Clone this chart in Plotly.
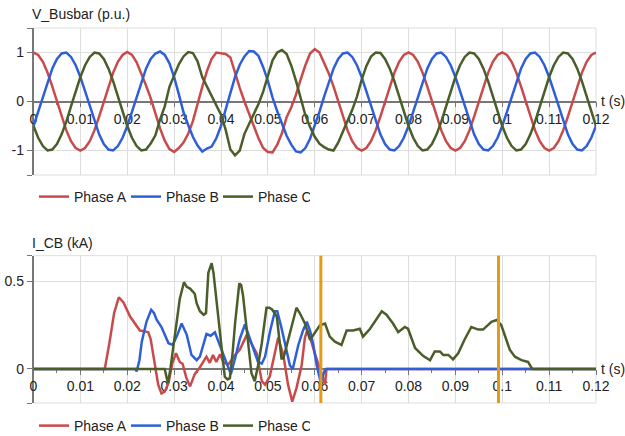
import plotly.graph_objects as go

# ---------------- data ----------------
t_top = [0.000, 0.001, 0.002, 0.003, 0.004, 0.005, 0.006, 0.007, 0.008, 0.009,
         0.010, 0.011, 0.012, 0.013, 0.014, 0.015, 0.016, 0.017, 0.018, 0.019,
         0.020, 0.021, 0.022, 0.023, 0.024, 0.025, 0.026, 0.027, 0.028, 0.029,
         0.030, 0.031, 0.032, 0.033, 0.034, 0.035, 0.036, 0.037, 0.038, 0.039,
         0.040, 0.041, 0.042, 0.043, 0.044, 0.045, 0.046, 0.047, 0.048, 0.049,
         0.050, 0.051, 0.052, 0.053, 0.054, 0.055, 0.056, 0.057, 0.058, 0.059,
         0.060, 0.061, 0.062, 0.063, 0.064, 0.065, 0.066, 0.067, 0.068, 0.069,
         0.070, 0.071, 0.072, 0.073, 0.074, 0.075, 0.076, 0.077, 0.078, 0.079,
         0.080, 0.081, 0.082, 0.083, 0.084, 0.085, 0.086, 0.087, 0.088, 0.089,
         0.090, 0.091, 0.092, 0.093, 0.094, 0.095, 0.096, 0.097, 0.098, 0.099,
         0.100, 0.101, 0.102, 0.103, 0.104, 0.105, 0.106, 0.107, 0.108, 0.109,
         0.110, 0.111, 0.112, 0.113, 0.114, 0.115, 0.116, 0.117, 0.118, 0.119,
         0.120]

v_phase_a = [1, .95, .81, .59, .31, 0, -.31, -.59, -.81, -.95,
             -1, -.95, -.81, -.59, -.31, 0, .31, .59, .81, .95,
             1.01, .95, .8, .58, .33, .07, -.25, -.55, -.8, -.97,
             -1.03, -.95, -.84, -.66, -.4, -.03, .3, .62, .87, 1.0,
             .99, .97, .9, .57, .28, 0, -.25, -.52, -.75, -.95,
             -1.03, -1.04, -.88, -.65, -.32, -.12, .14, .45, .74, .98,
             1.07, 1.0, .8, .57, .31, 0, -.31, -.59, -.81, -.95,
             -1, -.95, -.81, -.59, -.31, 0, .31, .59, .81, .95,
             1, .95, .81, .59, .31, 0, -.31, -.59, -.81, -.95,
             -1, -.95, -.81, -.59, -.31, 0, .31, .59, .81, .95,
             1, .95, .81, .59, .31, 0, -.31, -.59, -.81, -.95,
             -1, -.95, -.81, -.59, -.31, 0, .31, .59, .81, .95,
             1]

v_phase_b = [-.5, -.21, .1, .41, .67, .87, .98, 1, .91, .74,
             .5, .21, -.1, -.41, -.67, -.87, -.98, -1, -.91, -.74,
             -.5, -.21, .1, .41, .67, .87, .98, 1.02, .95, .78,
             .5, .15, -.22, -.48, -.72, -.9, -1.02, -.96, -.92, -.75,
             -.5, -.16, .2, .5, .75, .92, 1.03, 1.02, .93, .7,
             .42, .08, -.2, -.47, -.7, -.88, -1.02, -1.04, -.95, -.76,
             -.5, -.21, .1, .41, .67, .87, .98, 1, .91, .74,
             .5, .21, -.1, -.41, -.67, -.87, -.98, -1, -.91, -.74,
             -.5, -.21, .1, .41, .67, .87, .98, 1, .91, .74,
             .5, .21, -.1, -.41, -.67, -.87, -.98, -1, -.91, -.74,
             -.5, -.21, .1, .41, .67, .87, .98, 1, .91, .74,
             .5, .21, -.1, -.41, -.67, -.87, -.98, -1, -.91, -.74,
             -.5]

v_phase_c = [-.5, -.74, -.91, -1, -.98, -.87, -.67, -.41, -.1, .21,
             .5, .74, .91, 1, .98, .87, .67, .41, .1, -.21,
             -.5, -.74, -.91, -1, -.98, -.86, -.69, -.37, -.1, .3,
             .53, .76, .92, 1.01, .99, .82, .5, .31, .1, -.07,
             -.27, -.58, -.98, -1.1, -1.0, -.66, -.46, -.27, -.05, .2,
             .53, .84, 1.0, 1.05, .97, .73, .42, .08, -.28, -.52,
             -.72, -.86, -.93, -.98, -1.0, -.84, -.62, -.42, -.17, .1,
             .44, .72, .92, 1.0, .99, .87, .67, .41, .1, -.21,
             -.5, -.74, -.91, -1, -.98, -.87, -.67, -.41, -.1, .21,
             .5, .74, .91, 1, .98, .87, .67, .41, .1, -.21,
             -.5, -.74, -.91, -1, -.98, -.87, -.67, -.41, -.1, .21,
             .5, .74, .91, 1, .98, .87, .67, .41, .1, -.21,
             -.5]

t_ia = [0, 0.0152, 0.0162, 0.0172, 0.0182, 0.0192, 0.0206, 0.0217, 0.0227, 0.0238,
        0.0245, 0.025, 0.0256, 0.0266, 0.0273, 0.028, 0.0288, 0.0296, 0.0304, 0.0312,
        0.0318, 0.0326, 0.0334, 0.0344, 0.0355, 0.0362, 0.0369, 0.0376, 0.0383, 0.039,
        0.0398, 0.0405, 0.0415, 0.043, 0.044, 0.0455, 0.0465, 0.0476, 0.0487, 0.0494,
        0.0504, 0.0512, 0.0522, 0.0533, 0.0543, 0.0552, 0.0561, 0.0572, 0.0579, 0.0584,
        0.059, 0.06, 0.0611, 0.0618, 0.0622, 0.0625, 0.12]
i_phase_a = [0, 0, 0.15, 0.32, 0.41, 0.38, 0.30, 0.26, 0.22, 0.215,
             0.21, 0.17, 0.08, -0.09, -0.14, -0.13, -0.08, 0.03, 0.09, 0.04,
             0.03, -0.05, -0.10, -0.03, 0.01, 0.04, 0.07, 0.035, 0.08, 0.04,
             0.084, 0.04, 0.023, 0.08, 0.11, 0.195, 0.147, 0.09, -0.07, -0.09,
             -0.044, 0.05, 0.18, 0.08, -0.09, -0.187, -0.11, 0.02, 0.18, 0.22,
             0.18, 0.09, -0.006, -0.06, -0.09, 0, 0]

t_ib = [0, 0.0218, 0.022, 0.0226, 0.0231, 0.0241, 0.0251, 0.0257, 0.0263, 0.0273,
        0.0288, 0.0297, 0.0307, 0.0316, 0.0327, 0.0337, 0.0348, 0.0355, 0.0369, 0.0378,
        0.0387, 0.0398, 0.0412, 0.0421, 0.043, 0.044, 0.0451, 0.0462, 0.0479, 0.0487,
        0.0494, 0.0505, 0.0515, 0.052, 0.0529, 0.0547, 0.0553, 0.0565, 0.0575, 0.0583,
        0.059, 0.0597, 0.0604, 0.0613, 0.062, 0.0625, 0.12]
i_phase_b = [0, 0, -0.015, 0.05, 0.156, 0.27, 0.338, 0.32, 0.28, 0.24,
             0.147, 0.137, 0.195, 0.26, 0.195, 0.08, 0.05, 0.07, 0.2, 0.19,
             0.21, 0.13, 0.035, -0.03, 0.06, 0.17, 0.255, 0.17, 0.04, 0.03,
             0.07, 0.22, 0.33, 0.33, 0.235, 0.02, 0.0, 0.137, 0.22, 0.27,
             0.22, 0.137, 0.023, -0.08, -0.015, 0, 0]

t_ic = [0, 0.028, 0.0284, 0.0287, 0.0292, 0.0302, 0.0312, 0.0321, 0.0327, 0.0334,
        0.0344, 0.0348, 0.0355, 0.0363, 0.0368, 0.0373, 0.038, 0.0384, 0.039, 0.0401,
        0.0408, 0.0414, 0.0419, 0.0425, 0.043, 0.0439, 0.0443, 0.0447, 0.0455, 0.0465,
        0.0472, 0.0479, 0.0487, 0.0497, 0.0503, 0.0509, 0.0519, 0.0529, 0.0533, 0.0547,
        0.0561, 0.0568, 0.0579, 0.059, 0.06, 0.0611, 0.0622, 0.0632, 0.0643, 0.0657,
        0.0668, 0.0682, 0.0696, 0.0703, 0.0718, 0.0728, 0.0743, 0.0753, 0.0767, 0.0778,
        0.0792, 0.0799, 0.0814, 0.0831, 0.0846, 0.0856, 0.0867, 0.0874, 0.0885, 0.0895,
        0.0906, 0.092, 0.0934, 0.0949, 0.0959, 0.0977, 0.0988, 0.0998, 0.1016, 0.1027,
        0.1041, 0.1055, 0.1064, 0.12]
i_phase_c = [0, 0, -0.05, -0.08, 0.0, 0.21, 0.40, 0.496, 0.47, 0.46,
             0.43, 0.376, 0.33, 0.31, 0.32, 0.55, 0.605, 0.55, 0.41, 0.13,
             -0.044, -0.06, -0.053, 0.1, 0.26, 0.49, 0.48, 0.42, 0.22, -0.025,
             -0.07, 0.02, 0.147, 0.35, 0.35, 0.34, 0.30, 0.06, 0.06, 0.204,
             0.35, 0.32, 0.26, 0.166, 0.204, 0.25, 0.26, 0.185, 0.156, 0.137,
             0.22, 0.22, 0.23, 0.185, 0.23, 0.27, 0.33, 0.31, 0.26, 0.21,
             0.24, 0.23, 0.12, 0.075, 0.05, 0.1, 0.1, 0.08, 0.08, 0.055,
             0.09, 0.17, 0.24, 0.225, 0.225, 0.27, 0.28, 0.25, 0.11, 0.07,
             0.05, 0.04, 0, 0]

breaker_times = [0.0613, 0.0992]

x_tickvals = [0, 0.01, 0.02, 0.03, 0.04, 0.05, 0.06, 0.07, 0.08, 0.09, 0.1, 0.11, 0.12]
x_ticktext = ["0", "0.01", "0.02", "0.03", "0.04", "0.05", "0.06", "0.07", "0.08",
              "0.09", "0.1", "0.11", "0.12"]
y1_tickvals = [-1.5, -1, 0, 1, 1.5]
y1_ticktext = ["", "-1", "0", "1", ""]
y2_tickvals = [-0.195, 0, 0.5, 0.648]
y2_ticktext = ["", "0", "0.5", ""]

series_names = ["Phase A", "Phase B", "Phase C"]
colors = ["#C94A4A", "#2F5FD8", "#4A5E2A"]

# ---------------- figure ----------------
W, H = 625, 436
FONT = "Liberation Sans, Arial, sans-serif"
fig = go.Figure()

top_vals = [v_phase_a, v_phase_b, v_phase_c]
for name, vals, col in zip(series_names, top_vals, colors):
    fig.add_trace(go.Scatter(x=t_top, y=vals, name=name, mode="lines",
                             line=dict(color=col, width=2.5),
                             xaxis="x", yaxis="y", legend="legend"))

bot = [(t_ia, i_phase_a), (t_ib, i_phase_b), (t_ic, i_phase_c)]
for name, (tt, vals), col in zip(series_names, bot, colors):
    fig.add_trace(go.Scatter(x=tt, y=vals, name=name, mode="lines",
                             line=dict(color=col, width=2.5),
                             xaxis="x2", yaxis="y2", legend="legend2"))

x_dom = [33.5 / W, 596 / W]
y1_dom = [(H - 175) / H, (H - 28) / H]
y2_dom = [(H - 403) / H, (H - 255.7) / H]

def xaxis_cfg(pos):
    return dict(domain=x_dom, range=[0, 0.12], anchor="free", position=pos,
                tickvals=x_tickvals, ticktext=x_ticktext,
                showgrid=True, gridcolor="#dddddd", gridwidth=1,
                showline=True, linecolor="#777777", linewidth=1.5,
                ticks="outside", ticklen=5, tickcolor="#777777",
                minor=dict(ticks="outside", dtick=0.005, tick0=0, ticklen=3,
                           tickcolor="#777777", showgrid=False),
                tickfont=dict(family=FONT, size=14, color="#222222"),
                layer="below traces",
                zeroline=False, automargin=False, fixedrange=True)

def yaxis_cfg(dom, rng, tv, tt, xname):
    return dict(domain=dom, range=rng, anchor=xname, tickvals=tv, ticktext=tt,
                showgrid=True, gridcolor="#dddddd", gridwidth=1,
                showline=True, linecolor="#777777", linewidth=1.5,
                ticks="outside", ticklen=5, tickcolor="#777777",
                tickfont=dict(family=FONT, size=14, color="#222222"),
                layer="below traces",
                zeroline=False, automargin=False, fixedrange=True)

y0_top = (0 - (-1.5)) / 3.0
y0_bot = (0 - (-0.195)) / (0.648 + 0.195)
pos_top = y1_dom[0] + y0_top * (y1_dom[1] - y1_dom[0])
pos_bot = y2_dom[0] + y0_bot * (y2_dom[1] - y2_dom[0])

shapes = []
for xr, yr in (("x domain", "y domain"), ("x2 domain", "y2 domain")):
    shapes.append(dict(type="rect", xref=xr, yref=yr, x0=0, x1=1, y0=0, y1=1,
                       line=dict(color="#dddddd", width=1), layer="below"))
for bt in breaker_times:
    shapes.append(dict(type="line", xref="x2", yref="y2 domain", x0=bt, x1=bt,
                       y0=0, y1=1, line=dict(color="#E39B16", width=3), layer="above"))

annotations = [
    dict(text="V_Busbar (p.u.)", xref="paper", yref="paper", x=30 / W, y=(H - 14.5) / H,
         xanchor="left", yanchor="middle", showarrow=False,
         font=dict(family=FONT, size=14, color="#222222")),
    dict(text="I_CB (kA)", xref="paper", yref="paper", x=30 / W, y=(H - 243) / H,
         xanchor="left", yanchor="middle", showarrow=False,
         font=dict(family=FONT, size=14, color="#222222")),
    dict(text="t (s)", xref="paper", yref="paper", x=599 / W, y=pos_top,
         xanchor="left", yanchor="middle", showarrow=False,
         font=dict(family=FONT, size=14, color="#222222")),
    dict(text="t (s)", xref="paper", yref="paper", x=599 / W, y=pos_bot,
         xanchor="left", yanchor="middle", showarrow=False,
         font=dict(family=FONT, size=14, color="#222222")),
]

legend_common = dict(orientation="h", xanchor="left", yanchor="middle",
                     entrywidth=47, entrywidthmode="pixels",
                     font=dict(family=FONT, size=14, color="#222222"),
                     bgcolor="rgba(0,0,0,0)", itemclick=False, itemdoubleclick=False)

fig.update_layout(
    width=W, height=H,
    margin=dict(l=0, r=0, t=0, b=0, autoexpand=False),
    paper_bgcolor="white", plot_bgcolor="white",
    font=dict(family=FONT, size=14, color="#222222"),
    xaxis=xaxis_cfg(pos_top),
    yaxis=yaxis_cfg(y1_dom, [-1.5, 1.5], y1_tickvals, y1_ticktext, "x"),
    xaxis2=xaxis_cfg(pos_bot),
    yaxis2=yaxis_cfg(y2_dom, [-0.195, 0.648], y2_tickvals, y2_ticktext, "x2"),
    legend=dict(x=34 / W, y=(H - 197) / H, **legend_common),
    legend2=dict(x=34 / W, y=(H - 426) / H, **legend_common),
    shapes=shapes,
    annotations=annotations,
    showlegend=True,
)

fig.write_html("out.html", config={"displayModeBar": False},
               post_script="document.body.style.margin='0';document.body.style.overflow='hidden';")
